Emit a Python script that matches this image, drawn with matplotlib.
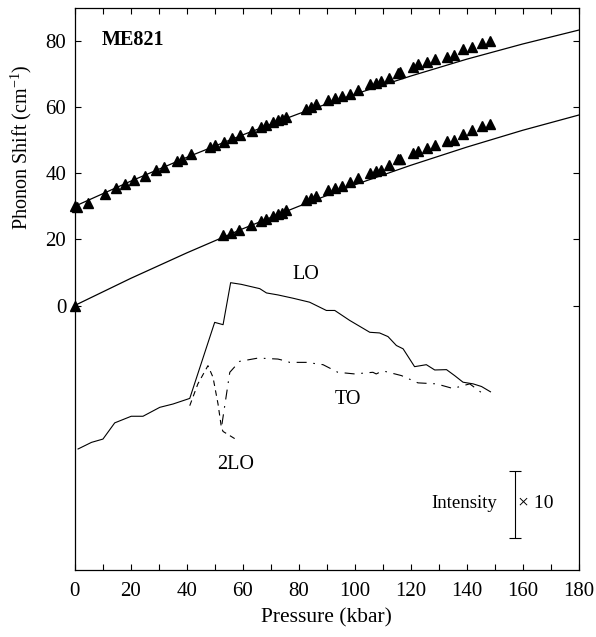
import matplotlib
matplotlib.use('Agg')
import matplotlib.pyplot as plt
import numpy as np

plt.rcParams['font.family'] = ['Liberation Serif', 'DejaVu Serif']
plt.rcParams['mathtext.fontset'] = 'custom'
plt.rcParams['mathtext.rm'] = 'Liberation Serif'

# upper phonon branch (triangles)
p_up = [0, 1, 4.75, 10.7, 14.9, 17.9, 21.1, 25.1, 29.2, 31.8, 36.5, 38.5, 41.7,
        48.5, 50, 53.3, 56.3, 58.9, 63.5, 66.7, 68.5, 70.8, 72.6, 74.2, 75.6,
        82.5, 84.5, 86.3, 90.3, 92.9, 95.3, 98.2, 101.2, 105.4, 107.5, 109.5,
        112.1, 115.3, 116.3, 120.8, 122.6, 125.8, 128.8, 132.8, 135.4, 138.7,
        142.0, 145.3, 148.5]
w_up = [30.0, 29.8, 31.0, 33.7, 35.6, 36.9, 37.9, 39.3, 40.9, 41.9, 43.7, 44.3, 45.8,
        47.9, 48.6, 49.6, 50.7, 51.5, 52.7, 54.0, 54.5, 55.5, 56.0, 56.5, 57.0,
        59.4, 60.1, 60.8, 62.3, 62.9, 63.4, 64.1, 65.3, 66.9, 67.4, 67.8,
        68.7, 70.3, 70.6, 72.2, 72.9, 73.7, 74.5, 75.2, 75.7, 77.7,
        78.2, 79.4, 80.0]

# lower phonon branch (triangles)
p_lo = [0, 53.0, 56.0, 58.6, 63.1, 66.7, 68.5, 70.8, 72.6, 74.2, 75.6, 82.5, 84.5,
        86.3, 90.3, 92.9, 95.3, 98.2, 101.2, 105.4, 107.5, 109.5, 112.1, 115.3,
        116.3, 120.8, 122.6, 125.8, 128.8, 132.8, 135.4, 138.7, 142.0, 145.3, 148.5]
w_lo = [0.0, 21.2, 22.0, 22.9, 24.2, 25.5, 26.1, 27.0, 27.6, 28.1, 28.8, 31.8, 32.5,
        33.1, 34.8, 35.5, 36.1, 37.4, 38.7, 40.2, 40.7, 41.1, 42.4, 44.2,
        44.4, 46.0, 46.8, 47.7, 48.7, 49.7, 50.2, 52.0, 53.2, 54.2, 54.8]

# fitted curves
p_fit = [0, 20, 40, 60, 80, 100, 120, 140, 160, 180]
fit_up = [30.0, 37.6, 44.8, 51.6, 58.0, 63.9, 69.4, 74.5, 79.1, 83.3]
fit_lo = [0.0, 8.2, 15.9, 23.2, 30.0, 36.5, 42.4, 47.9, 53.0, 57.6]

# Raman intensities (offset, arbitrary units)
p_LO = [1.2, 6.0, 10.1, 14.3, 20.2, 24.4, 30.4, 35.1, 41.1, 50.0, 53.0, 55.7, 59.5,
        66.1, 68.5, 72.6, 78.0, 83.9, 89.9, 92.9, 98.2, 105.4, 108.9, 111.9,
        114.9, 117.3, 121.4, 125.6, 128.6, 132.8, 135.7, 138.7, 142.3, 145.3, 148.5]
i_LO = [-43.4, -41.4, -40.4, -35.5, -33.5, -33.5, -30.8, -29.8, -28.1, -5.1, -5.8, 6.9, 6.4,
        5.1, 3.8, 3.2, 2.2, 1.0, -1.5, -1.5, -4.5, -8.1, -8.3, -9.4,
        -12.1, -13.1, -18.5, -17.9, -19.5, -19.4, -21.2, -23.2, -23.7, -24.5, -26.1]

p_TO = [52.6, 55.4, 58.9, 65.5, 72.6, 75.0, 76.8, 82.7, 88.7, 94.0, 100.0, 106.5,
        107.7, 108.9, 110.7, 116.7, 122.6, 129.2, 135.1, 141.1, 145.2]
i_TO = [-35.9, -20.2, -16.9, -15.9, -16.2, -16.7, -17.2, -17.2, -17.9, -20.2, -20.7, -20.2,
        -20.7, -20.2, -19.9, -21.2, -23.4, -23.7, -25.1, -23.7, -26.3]

p_2LO = [41.1, 44.0, 47.6, 49.4, 51.2, 52.4, 53.0, 57.8]
i_2LO = [-30.3, -23.7, -18.2, -21.7, -29.8, -36.9, -38.1, -40.6]

fig = plt.figure(figsize=(5.96, 6.37), dpi=100)
ax = fig.add_axes([0.1253, 0.1052, 0.8456, 0.8823])

ax.plot(p_fit, fit_up, color='black', lw=0.9)
ax.plot(p_fit, fit_lo, color='black', lw=0.9)
ax.plot(p_up, w_up, '^', color='black', ms=7.5, clip_on=False)
ax.plot(p_lo, w_lo, '^', color='black', ms=7.5, clip_on=False)

ax.plot(p_LO, i_LO, color='black', lw=0.8)
ax.plot(p_TO, i_TO, color='black', lw=0.8, dashes=(9, 6, 1.5, 6))
ax.plot(p_2LO, i_2LO, color='black', lw=0.8, dashes=(5, 4))

ax.text(82.5, 9.5, 'LO', fontsize=14.5, ha='center', va='center')
ax.text(97.5, -28.5, 'TO', fontsize=14.5, ha='center', va='center')
ax.text(57.5, -48.0, '2LO', fontsize=14.5, ha='center', va='center')
ax.text(9.8, 80.3, 'ME821', fontsize=14.5, fontweight='bold', ha='left', va='center')

# intensity scale bar
ax.errorbar([157.2], [-60.2], yerr=[[10]], color='black', lw=0.8, capsize=4.5, capthick=0.8)
ax.text(150.8, -59.8, 'Intensity', fontsize=13.5, ha='right', va='center')
ax.text(158.3, -59.8, '\u00d7 10', fontsize=14, ha='left', va='center')

ax.set_xlim(0, 180)
ax.set_ylim(-80, 90)
ax.set_xticks(np.arange(0, 181, 20))
ax.set_xticks(np.arange(0, 181, 10), minor=True)
ax.set_yticks([0, 20, 40, 60, 80])
ax.tick_params(which='both', direction='in', top=True, right=True,
               labelsize=15, length=4, width=0.8)
ax.tick_params(axis='x', pad=8.5)
ax.tick_params(axis='y', pad=6)

for s in ax.spines.values():
    s.set_linewidth(0.9)

ax.set_xlabel('Pressure (kbar)', fontsize=15.5, labelpad=5)
ax.set_ylabel('Phonon Shift (cm$^{\\mathregular{-1}}$)', fontsize=14.5)
ax.yaxis.set_label_coords(-0.08, 0.752)

fig.savefig('out.png', dpi=100)
